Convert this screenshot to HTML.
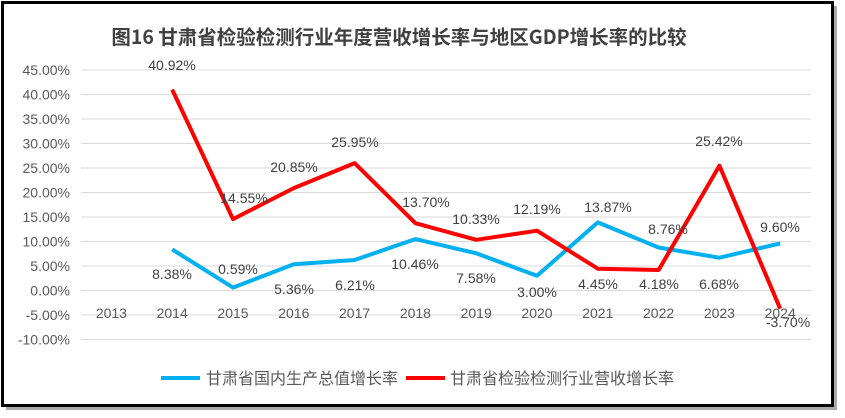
<!DOCTYPE html>
<html><head><meta charset="utf-8"><style>
body{margin:0;background:#fff;}
svg{display:block;font-family:"Liberation Sans","Noto Sans CJK SC",sans-serif;}
</style></head><body>
<svg width="845" height="418" viewBox="0 0 845 418">
<rect x="6" y="6" width="831" height="404" fill="#555" opacity="0.5"/>
<rect x="2.5" y="2.5" width="830" height="403" fill="#fff" stroke="#000" stroke-width="3"/>
<text x="399" y="44" font-size="19.5" font-weight="bold" fill="#404040" text-anchor="middle" font-family="'Noto Sans CJK SC',sans-serif">图16  甘肃省检验检测行业年度营收增长率与地区GDP增长率的比较</text>
<g stroke="#d9d9d9" stroke-width="1">
<line x1="81" x2="811" y1="70" y2="70"/><line x1="81" x2="811" y1="94.5" y2="94.5"/>
<line x1="81" x2="811" y1="119" y2="119"/><line x1="81" x2="811" y1="143.5" y2="143.5"/>
<line x1="81" x2="811" y1="168" y2="168"/><line x1="81" x2="811" y1="192.5" y2="192.5"/>
<line x1="81" x2="811" y1="217" y2="217"/><line x1="81" x2="811" y1="241.5" y2="241.5"/>
<line x1="81" x2="811" y1="266" y2="266"/><line x1="81" x2="811" y1="290.5" y2="290.5"/>
<line x1="81" x2="811" y1="315" y2="315"/><line x1="81" x2="811" y1="339.5" y2="339.5"/>
</g>
<g font-size="14" fill="#595959" text-anchor="end">
<text x="70" y="75">45.00%</text><text x="70" y="99.5">40.00%</text><text x="70" y="124">35.00%</text>
<text x="70" y="148.5">30.00%</text><text x="70" y="173">25.00%</text><text x="70" y="197.5">20.00%</text>
<text x="70" y="222">15.00%</text><text x="70" y="246.5">10.00%</text><text x="70" y="271">5.00%</text>
<text x="70" y="295.5">0.00%</text><text x="70" y="320">-5.00%</text><text x="70" y="344.5">-10.00%</text>
</g>
<g font-size="14" fill="#595959" text-anchor="middle">
<text x="111.4" y="318">2013</text><text x="172.2" y="318">2014</text><text x="233" y="318">2015</text>
<text x="293.8" y="318">2016</text><text x="354.6" y="318">2017</text><text x="415.4" y="318">2018</text>
<text x="476.2" y="318">2019</text><text x="537" y="318">2020</text><text x="597.8" y="318">2021</text>
<text x="658.6" y="318">2022</text><text x="719.4" y="318">2023</text><text x="780.2" y="318">2024</text>
</g>
<polyline fill="none" stroke="#00b0f0" stroke-width="4" stroke-linejoin="round" points="172.2,249.4 233,287.6 293.8,264.2 354.6,260 415.4,239.1 476.2,253.3 537,275.8 597.8,222.4 658.6,247.5 719.4,257.7 780.2,243.4"/>
<polyline fill="none" stroke="#ff0000" stroke-width="4" stroke-linejoin="round" points="172.2,89.6 233,219.1 293.8,188.1 354.6,163.1 415.4,223.2 476.2,239.8 537,230.7 597.8,268.7 658.6,270 719.4,165.7 780.2,308.7"/>
<g font-size="14" fill="#404040" text-anchor="middle">
<text x="172" y="70">40.92%</text><text x="244" y="203">14.55%</text><text x="294" y="172">20.85%</text>
<text x="355" y="147">25.95%</text><text x="426" y="207">13.70%</text><text x="476" y="224">10.33%</text>
<text x="537" y="214">12.19%</text><text x="598" y="289">4.45%</text><text x="659" y="289">4.18%</text>
<text x="719" y="146">25.42%</text><text x="788" y="327">-3.70%</text>
<text x="172" y="279">8.38%</text><text x="238" y="274">0.59%</text><text x="294" y="294">5.36%</text>
<text x="355" y="290">6.21%</text><text x="415" y="269">10.46%</text><text x="476" y="283">7.58%</text>
<text x="537" y="297">3.00%</text><text x="608" y="212">13.87%</text><text x="668" y="234">8.76%</text>
<text x="719" y="289">6.68%</text><text x="780" y="232">9.60%</text>
</g>
<line x1="161" x2="200" y1="378" y2="378" stroke="#00b0f0" stroke-width="4"/>
<text x="206" y="384" font-size="16" fill="#595959" font-family="'Noto Sans CJK SC',sans-serif">甘肃省国内生产总值增长率</text>
<line x1="406" x2="445" y1="378" y2="378" stroke="#ff0000" stroke-width="4"/>
<text x="450" y="384" font-size="16" fill="#595959" font-family="'Noto Sans CJK SC',sans-serif">甘肃省检验检测行业营收增长率</text>
</svg>
</body></html>
